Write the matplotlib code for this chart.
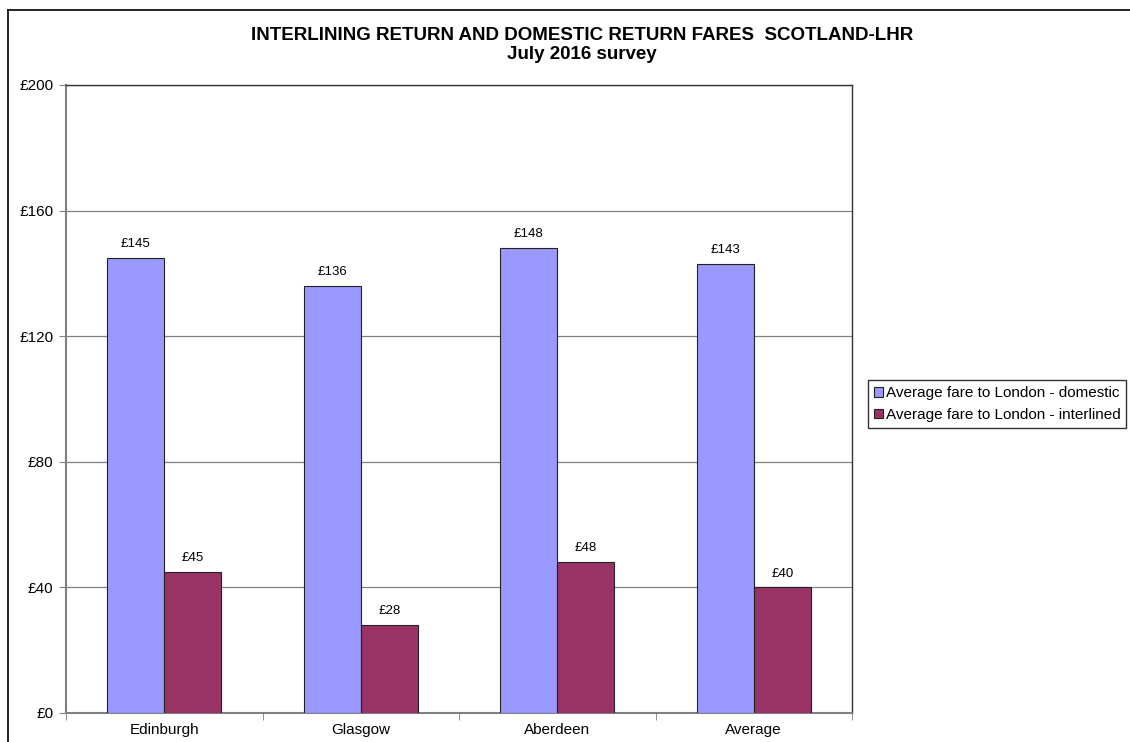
import matplotlib
matplotlib.use("Agg")
import matplotlib.pyplot as plt
from matplotlib.lines import Line2D
from matplotlib.patches import Patch

plt.rcParams['font.family'] = ['Liberation Sans', 'DejaVu Sans']

cities = ["Edinburgh", "Glasgow", "Aberdeen", "Average"]
domestic = [145, 136, 148, 143]
interlined = [45, 28, 48, 40]
yticks = [0, 40, 80, 120, 160, 200]
series_names = ["Average fare to London - domestic", "Average fare to London - interlined"]
colors = ["#9999FF", "#993366"]

W, H = 1130, 742
fig = plt.figure(figsize=(W / 100, H / 100), dpi=100)

# outer chart frame (top and left edges visible)
fig.add_artist(Line2D([8 / W, 1.0], [1 - 10 / H, 1 - 10 / H], color="black", lw=1.2))
fig.add_artist(Line2D([8 / W, 8 / W], [0, 1 - 10 / H], color="black", lw=1.2))

ax = fig.add_axes([66 / W, (H - 713) / H, (852 - 66) / W, (713 - 85) / H])

width = 0.29
x = list(range(len(cities)))
b1 = ax.bar([i - width / 2 for i in x], domestic, width, color=colors[0],
            edgecolor="#222222", linewidth=0.8, zorder=3)
b2 = ax.bar([i + width / 2 for i in x], interlined, width, color=colors[1],
            edgecolor="#222222", linewidth=0.8, zorder=3)

for bars, vals in ((b1, domestic), (b2, interlined)):
    for rect, v in zip(bars, vals):
        ax.text(rect.get_x() + rect.get_width() / 2, v + 2.5, f"£{v}",
                ha="center", va="bottom", fontsize=9.5)

ax.set_xlim(-0.5, len(cities) - 0.5)
ax.set_ylim(0, 200)
ax.set_yticks(yticks)
ax.set_yticklabels([f"£{t}" for t in yticks], fontsize=11)
ax.yaxis.grid(True, color="#808080", linewidth=0.9, zorder=0)
ax.set_axisbelow(True)

ax.set_xticks(x)
ax.set_xticklabels(cities, fontsize=11)
ax.tick_params(axis="x", length=0, pad=7)
ax.set_xticks([i + 0.5 for i in range(-1, len(cities))], minor=True)
ax.tick_params(axis="x", which="minor", length=5, color="#808080")
ax.tick_params(axis="y", length=5, color="#808080", pad=4)

for side in ("left", "bottom"):
    ax.spines[side].set_color("#808080")
    ax.spines[side].set_linewidth(1.5)
for side in ("top", "right"):
    ax.spines[side].set_color("#333333")
    ax.spines[side].set_linewidth(1.0)

fig.text(582 / W, 1 - 45 / H, "INTERLINING RETURN AND DOMESTIC RETURN FARES  SCOTLAND-LHR\nJuly 2016 survey",
         ha="center", va="center", fontsize=13.5, fontweight="bold", linespacing=1.2)

handles = [Patch(facecolor=c, edgecolor="#222222", linewidth=0.8) for c in colors]
leg = fig.legend(handles, series_names, loc="upper left",
                 bbox_to_anchor=(868 / W, 1 - 380 / H), fontsize=11,
                 frameon=True, fancybox=False, edgecolor="black",
                 handlelength=0.6, handleheight=0.6, handletextpad=0.15,
                 borderpad=0.4, labelspacing=0.5, borderaxespad=0)
leg.get_frame().set_linewidth(1.0)

fig.savefig("out.png", dpi=100)
